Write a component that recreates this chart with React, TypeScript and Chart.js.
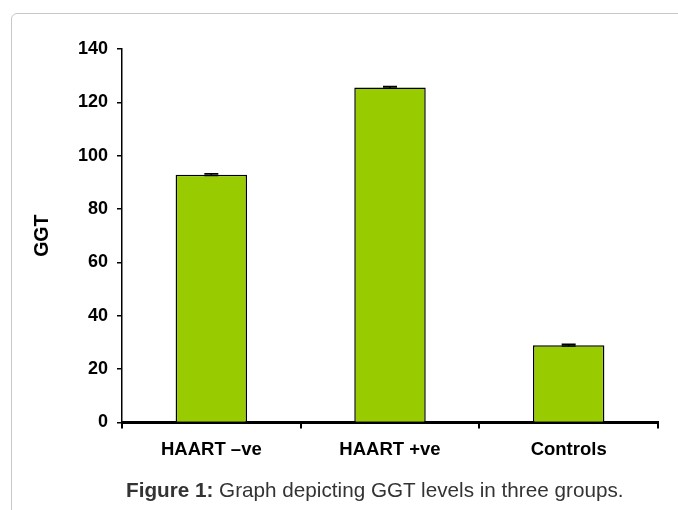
import React, { useEffect, useRef } from "react";
import { Chart, registerables } from "chart.js";

Chart.register(...registerables);

const categories = ["HAART \u2013ve", "HAART +ve", "Controls"];
const ggtValues = [92.9, 125.6, 29.0];
const ggtErrors = [0.3, 0.3, 0.3];
const yTicks = [0, 20, 40, 60, 80, 100, 120, 140];

const FONT = "'Liberation Sans', Arial, sans-serif";

const errorBarPlugin = {
  id: "errorBars",
  afterDatasetsDraw(chart: any) {
    const ctx = chart.ctx;
    const meta = chart.getDatasetMeta(0);
    const yScale = chart.scales.y;
    ctx.save();
    ctx.strokeStyle = "#000";
    ctx.lineWidth = 1.5;
    meta.data.forEach((bar: any, i: number) => {
      const v = ggtValues[i];
      const e = ggtErrors[i];
      const yTop = yScale.getPixelForValue(v + e);
      const yBot = yScale.getPixelForValue(v - e);
      const x = bar.x;
      ctx.beginPath();
      ctx.moveTo(x, yTop);
      ctx.lineTo(x, yBot);
      ctx.moveTo(x - 7, yTop);
      ctx.lineTo(x + 7, yTop);
      ctx.moveTo(x - 7, yBot);
      ctx.lineTo(x + 7, yBot);
      ctx.stroke();
    });
    ctx.restore();
  },
};

export default function App() {
  const ref = useRef<HTMLCanvasElement | null>(null);

  useEffect(() => {
    if (!ref.current) return;
    const chart = new Chart(ref.current, {
      type: "bar",
      data: {
        labels: categories,
        datasets: [
          {
            data: ggtValues,
            backgroundColor: "#99CC00",
            borderColor: "#000000",
            borderWidth: 1.5,
            barPercentage: 0.8,
            categoryPercentage: 0.5,
          },
        ],
      },
      options: {
        animation: false,
        responsive: false,
        maintainAspectRatio: false,
        layout: { padding: { left: 29, top: 49, right: 20, bottom: 0 } },
        plugins: {
          legend: { display: false },
          tooltip: { enabled: false },
        },
        scales: {
          x: {
            offset: true,
            afterFit: (s: any) => {
              s.height = 87.5;
            },
            grid: {
              display: true,
              offset: true,
              drawOnChartArea: false,
              drawTicks: true,
              tickLength: 6,
              lineWidth: 2,
              color: "#000",
            },
            border: { display: true, color: "#000", width: 3 },
            ticks: {
              color: "#000",
              padding: 10,
              maxRotation: 0,
              font: { family: FONT, size: 18.5, weight: "bold" },
            },
          },
          y: {
            min: 0,
            max: 140,
            afterFit: (s: any) => {
              s.width = 93;
            },
            afterBuildTicks: (s: any) => {
              s.ticks = yTicks.map((v) => ({ value: v }));
            },
            grid: {
              display: true,
              drawOnChartArea: false,
              drawTicks: true,
              tickLength: 5,
              lineWidth: 1.5,
              color: "#000",
            },
            border: { display: true, color: "#000", width: 1.5 },
            ticks: {
              color: "#000",
              padding: 9,
              font: { family: FONT, size: 18, weight: "bold" },
            },
            title: {
              display: true,
              text: "GGT",
              color: "#000",
              padding: { top: 2, bottom: 0 },
              font: { family: FONT, size: 19.5, weight: "bold" },
            },
          },
        },
      },
      plugins: [errorBarPlugin],
    });
    return () => chart.destroy();
  }, []);

  return (
    <div
      style={{
        position: "absolute",
        left: 0,
        top: 0,
        width: 678,
        height: 510,
        overflow: "hidden",
        background: "#fff",
      }}
    >
      <div
        style={{
          position: "absolute",
          left: 11,
          top: 13,
          width: 720,
          height: 540,
          border: "1px solid #c8c8c8",
          borderRadius: 6,
          boxSizing: "border-box",
        }}
      />
      <canvas
        ref={ref}
        width={678}
        height={510}
        style={{ position: "absolute", left: 0, top: 0, width: 678, height: 510 }}
      />
      <div
        style={{
          position: "absolute",
          left: 126,
          top: 478,
          whiteSpace: "nowrap",
          fontFamily: FONT,
          fontSize: 20.7,
          lineHeight: "24px",
          color: "#333333",
        }}
      >
        <b>Figure 1:</b> Graph depicting GGT levels in three groups.
      </div>
    </div>
  );
}
